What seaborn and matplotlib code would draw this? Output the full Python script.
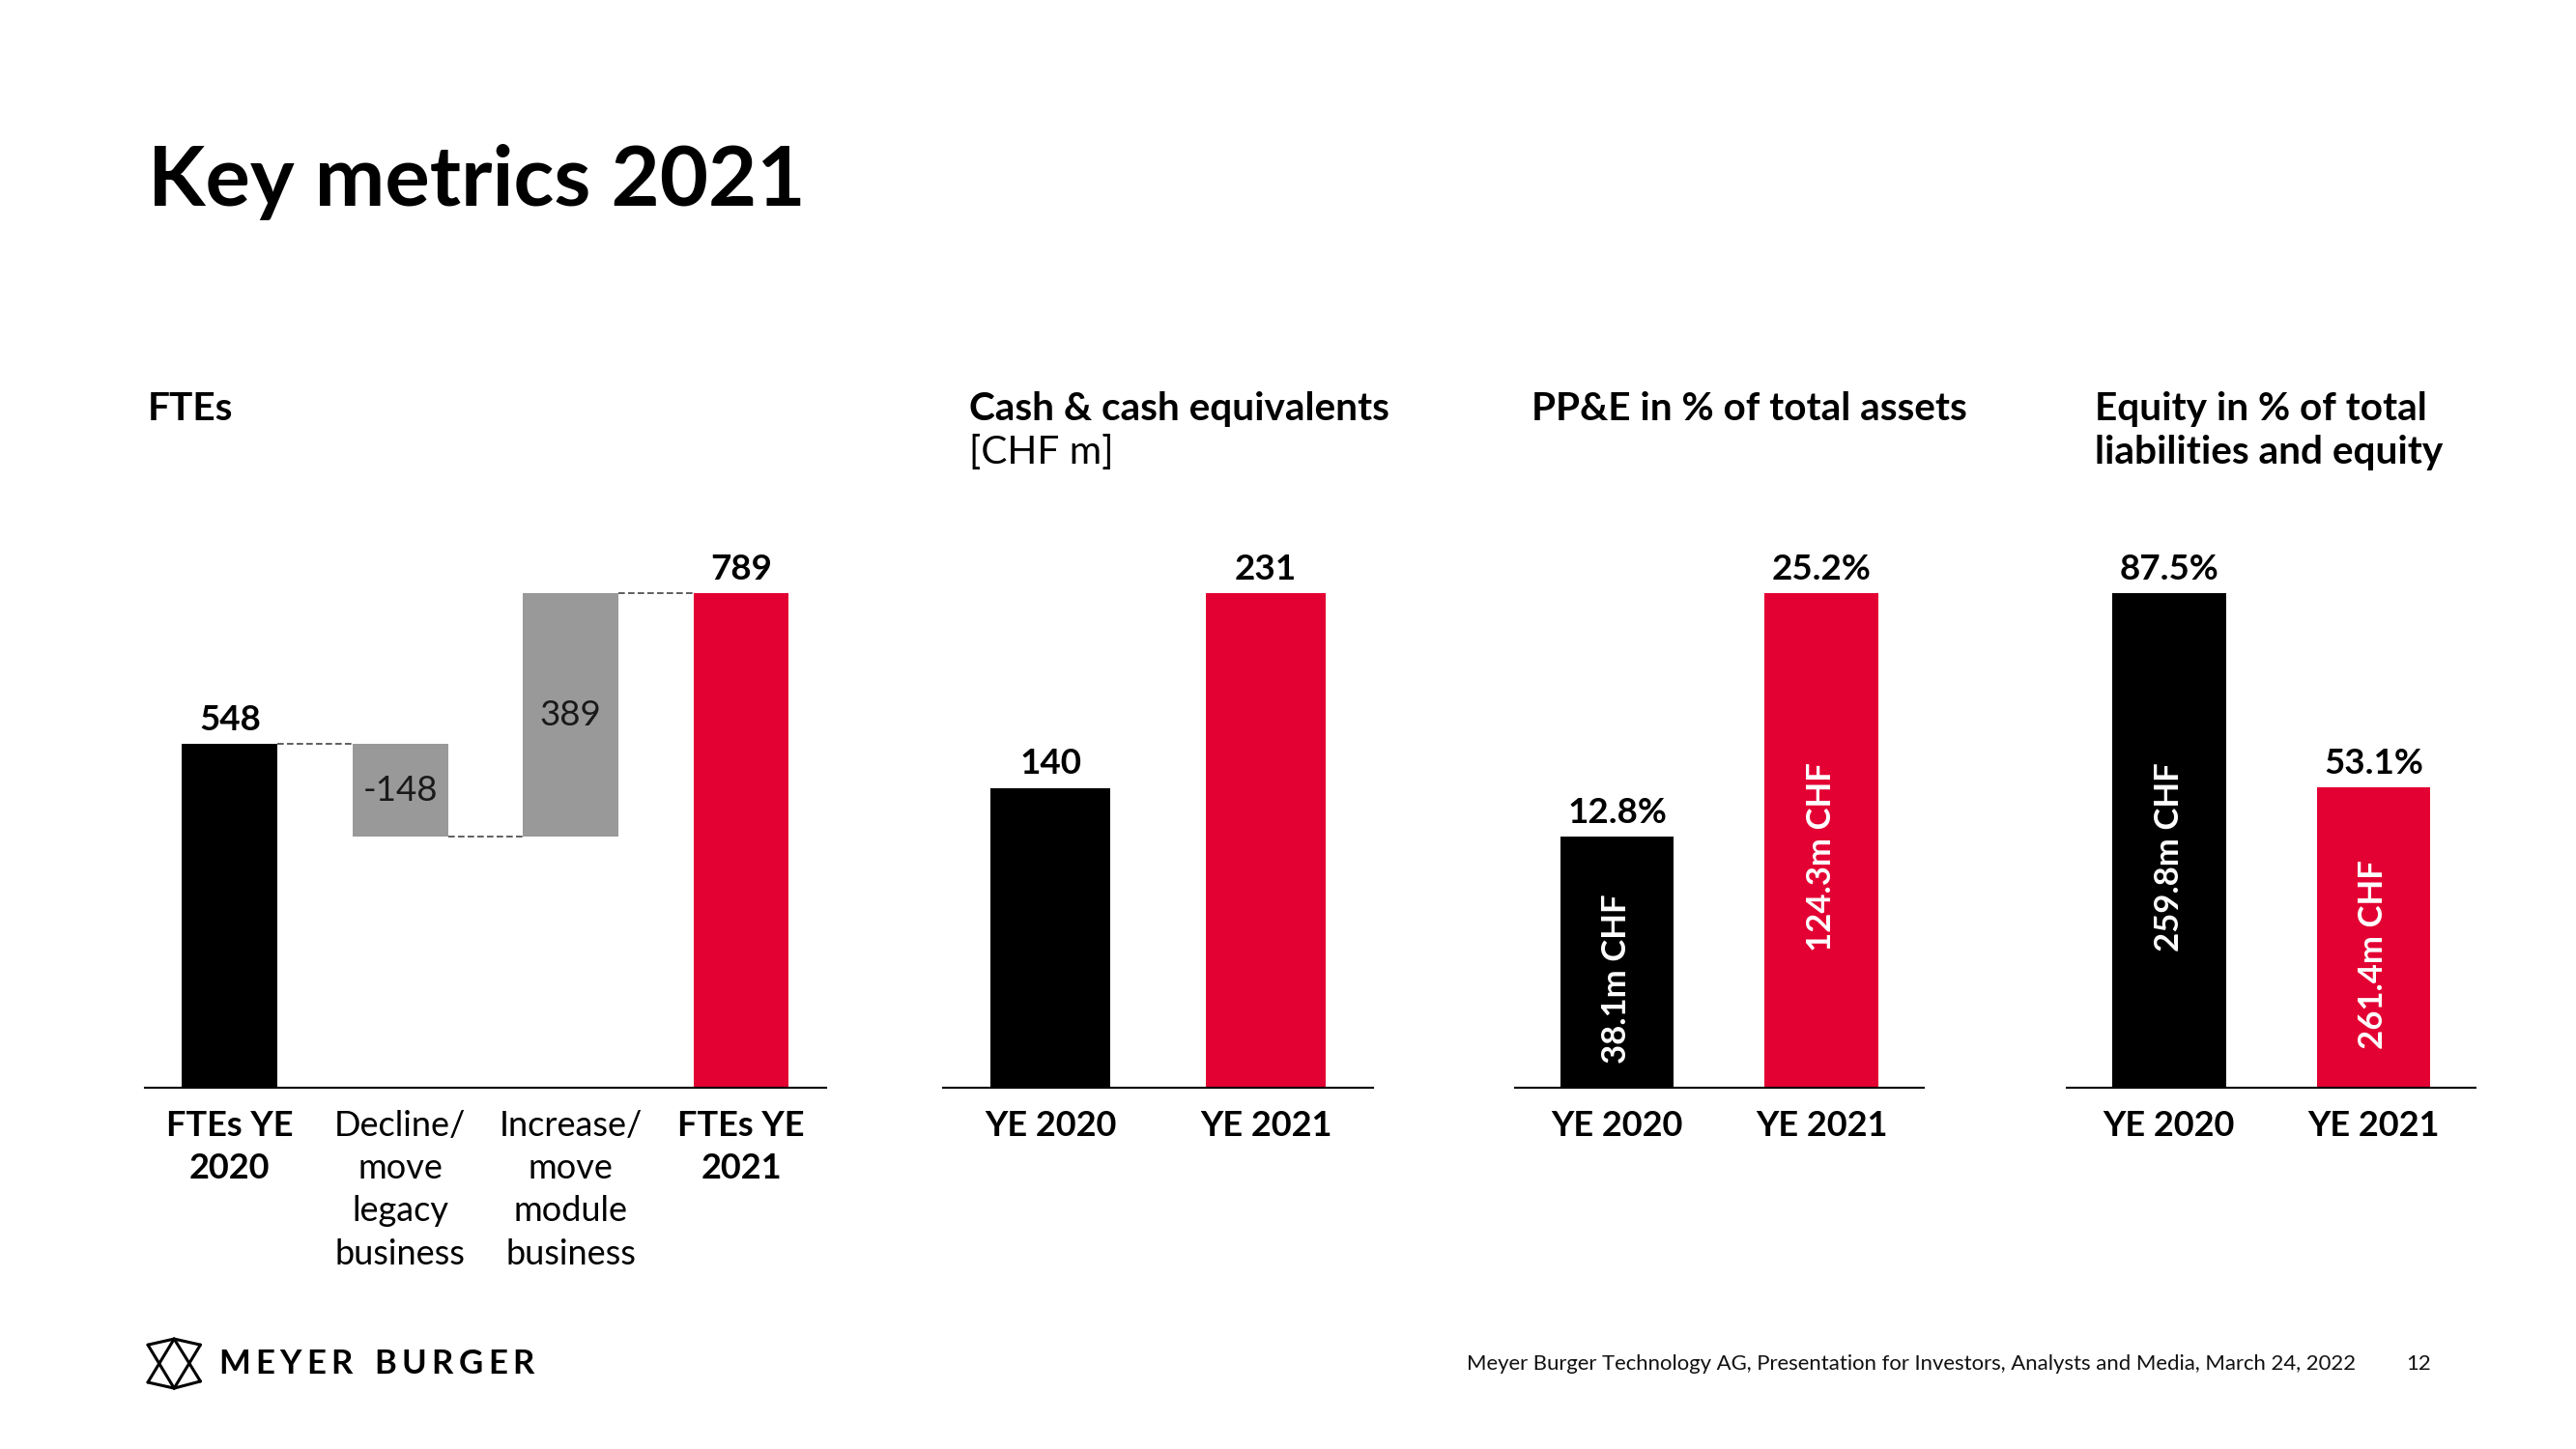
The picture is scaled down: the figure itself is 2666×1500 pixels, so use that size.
import matplotlib
matplotlib.use("Agg")
import matplotlib.pyplot as plt
import seaborn as sns
import pandas as pd
from matplotlib.lines import Line2D

# ---------------- data ----------------
fte_categories = ["FTEs YE\n2020", "Decline/\nmove\nlegacy\nbusiness",
                  "Increase/\nmove\nmodule\nbusiness", "FTEs YE\n2021"]
fte_steps = [548, -148, 389, 789]
fte_kinds = ["total", "delta", "delta", "total"]

year_categories = ["YE 2020", "YE 2021"]
cash_values = [140, 231]
ppe_pct = [12.8, 25.2]
ppe_abs_labels = ["38.1m CHF", "124.3m CHF"]
equity_pct = [87.5, 53.1]
equity_abs_labels = ["259.8m CHF", "261.4m CHF"]

# ---------------- style ----------------
BLACK = "#000000"
RED = "#E30033"
GREY = "#999999"
FONT = "Lato"

sns.set_theme(style="white")
plt.rcParams["font.family"] = [FONT, "DejaVu Sans"]
plt.rcParams["text.color"] = "black"

fig = plt.figure(figsize=(26.66, 15), dpi=100)
fig.patch.set_facecolor("white")

W, H = 1568.0, 882.0
AX_BOTTOM = 1 - 662 / H
AX_TOP = 1 - 330 / H
AX_H = AX_TOP - AX_BOTTOM
HEAD_FRAC = 332 / 301.0

VAL_FS = 26.5
TICK_FS = 26
ROT_FS = 25


def make_ax(x0, x1):
    ax = fig.add_axes([x0 / W, AX_BOTTOM, (x1 - x0) / W, AX_H])
    ax.set_facecolor("none")
    for s in ["top", "right", "left"]:
        ax.spines[s].set_visible(False)
    ax.spines["bottom"].set_color("black")
    ax.spines["bottom"].set_linewidth(1.5)
    ax.set_yticks([])
    ax.tick_params(axis="x", length=0, pad=16.5, labelsize=TICK_FS,
                   labelcolor="black")
    return ax


def value_label(ax, x, y, text):
    ax.annotate(text, xy=(x, y), xytext=(0, 6), textcoords="offset points",
                ha="center", va="bottom", fontsize=VAL_FS, fontweight="bold",
                color="black")


# ---------------- FTE waterfall ----------------
bottoms, heights, levels = [], [], []
running = 0
for kind, v in zip(fte_kinds, fte_steps):
    if kind == "total":
        bottoms.append(0)
        heights.append(v)
        running = v
    else:
        bottoms.append(min(running, running + v))
        heights.append(abs(v))
        running += v
    levels.append(running)

fte_colors = [BLACK, GREY, GREY, RED]
ax1 = make_ax(88, 503)
df1 = pd.DataFrame({"cat": fte_categories, "h": heights})
WF_W = 0.56
sns.barplot(data=df1, x="cat", y="h", bottom=bottoms, color=GREY, width=WF_W,
            errorbar=None, ax=ax1, saturation=1, linewidth=0)
for p, c in zip(ax1.patches, fte_colors):
    p.set_facecolor(c)
    p.set_edgecolor(c)
ax1.set_xlim(-0.5, 3.5)
ax1.set_ylim(0, max(fte_steps) * HEAD_FRAC)
ax1.set_xlabel("")
ax1.set_ylabel("")
ax1.set_yticks([])
for i in range(len(fte_steps) - 1):
    ax1.plot([i + WF_W / 2, i + 1 - WF_W / 2], [levels[i], levels[i]],
             color="#444444", lw=1.2, ls=(0, (4, 2)))
for i, (kind, v) in enumerate(zip(fte_kinds, fte_steps)):
    if kind == "total":
        value_label(ax1, i, v, f"{v}")
    else:
        ax1.text(i, bottoms[i] + heights[i] / 2, f"{v}", ha="center", va="center",
                 fontsize=VAL_FS, fontweight="normal", color="#1a1a1a")
ax1.set_xticks(range(len(fte_categories)))
ax1.set_xticklabels(fte_categories, linespacing=1.42)
for lab, kind in zip(ax1.get_xticklabels(), fte_kinds):
    lab.set_fontweight("bold" if kind == "total" else "normal")


# ---------------- simple two-bar panels ----------------
def two_bar(x0, x1, values, labels_top, inner_labels=None):
    ax = make_ax(x0, x1)
    df = pd.DataFrame({"cat": year_categories, "v": values})
    sns.barplot(data=df, x="cat", y="v", hue="cat", palette=[BLACK, RED],
                legend=False, width=0.556, errorbar=None, ax=ax,
                saturation=1, linewidth=0)
    ax.set_xlim(-0.5, 1.5)
    ax.set_ylim(0, max(values) * HEAD_FRAC)
    ax.set_xlabel("")
    ax.set_ylabel("")
    ax.set_yticks([])
    ax.set_xticks(range(len(year_categories)))
    ax.set_xticklabels(year_categories, fontweight="bold")
    for i, (v, t) in enumerate(zip(values, labels_top)):
        value_label(ax, i, v, t)
        if inner_labels is not None:
            ax.annotate(inner_labels[i], xy=(i, v / 2), xytext=(0, -12.5),
                        textcoords="offset points", rotation=90, ha="center",
                        va="center", color="white", fontsize=ROT_FS,
                        fontweight="bold")
    return ax


two_bar(574, 836, cash_values, [f"{v}" for v in cash_values])
two_bar(922, 1171, ppe_pct, [f"{v:.1f}%" for v in ppe_pct], ppe_abs_labels)
two_bar(1258, 1507, equity_pct, [f"{v:.1f}%" for v in equity_pct], equity_abs_labels)

# ---------------- texts ----------------
fig.text(90 / W, 1 - 125 / H, "Key metrics 2021", fontsize=62.5, fontweight="bold",
         ha="left", va="baseline")

HEAD_FS = 29.2
fig.text(90 / W, 1 - 256 / H, "FTEs", fontsize=HEAD_FS, fontweight="bold", va="baseline")
fig.text(590 / W, 1 - 256 / H, "Cash & cash equivalents", fontsize=HEAD_FS,
         fontweight="bold", va="baseline")
fig.text(590 / W, 1 - 282 / H, "[CHF m]", fontsize=HEAD_FS, fontweight="normal",
         va="baseline")
fig.text(932 / W, 1 - 256 / H, "PP&E in % of total assets", fontsize=HEAD_FS,
         fontweight="bold", va="baseline")
fig.text(1275 / W, 1 - 256 / H, "Equity in % of total", fontsize=HEAD_FS,
         fontweight="bold", va="baseline")
fig.text(1275 / W, 1 - 282 / H, "liabilities and equity", fontsize=HEAD_FS,
         fontweight="bold", va="baseline")

# footer
fig.text(1434 / W, 1 - 830 / H,
         "Meyer Burger Technology AG, Presentation for Investors, Analysts and Media, March 24, 2022",
         fontsize=15.9, fontweight="normal", va="center", ha="right", color="#111111")
fig.text(1480 / W, 1 - 830 / H, "12", fontsize=15.9, fontweight="normal",
         va="center", ha="right", color="#111111")

# brand wordmark with letter tracking
renderer = fig.canvas.get_renderer()
brand = "MEYER BURGER"
bx = 133 / W * fig.bbox.width
by = (1 - 830 / H)
tracking = 5.3  # pixels between letters
for ch in brand:
    t = fig.text(bx / fig.bbox.width, by, ch, fontsize=25, fontweight="bold",
                 va="center", ha="left")
    if ch == " ":
        w = 12.0
    else:
        w = t.get_window_extent(renderer).width
    bx += w + tracking

# logo icon
lx0, lx1 = 90 / W, 122 / W
ly_top, ly_bot = 1 - 815 / H, 1 - 845 / H


def P(u, v):
    return (lx0 + u * (lx1 - lx0), ly_top + v * (ly_bot - ly_top))


segments = [
    (P(0, 0.12), P(0.5, 0)), (P(0.5, 0), P(1, 0.12)),
    (P(0, 0.88), P(0.5, 1)), (P(0.5, 1), P(1, 0.86)),
    (P(0, 0.12), P(0.5, 1)), (P(1, 0.12), P(0.5, 1)),
    (P(0.5, 0), P(0, 0.88)), (P(0.5, 0), P(1, 0.86)),
]
for a, b in segments:
    fig.add_artist(Line2D([a[0], b[0]], [a[1], b[1]], transform=fig.transFigure,
                          color="black", lw=2.2, solid_joinstyle="miter"))

fig.savefig("out.png", dpi=100, facecolor="white")
